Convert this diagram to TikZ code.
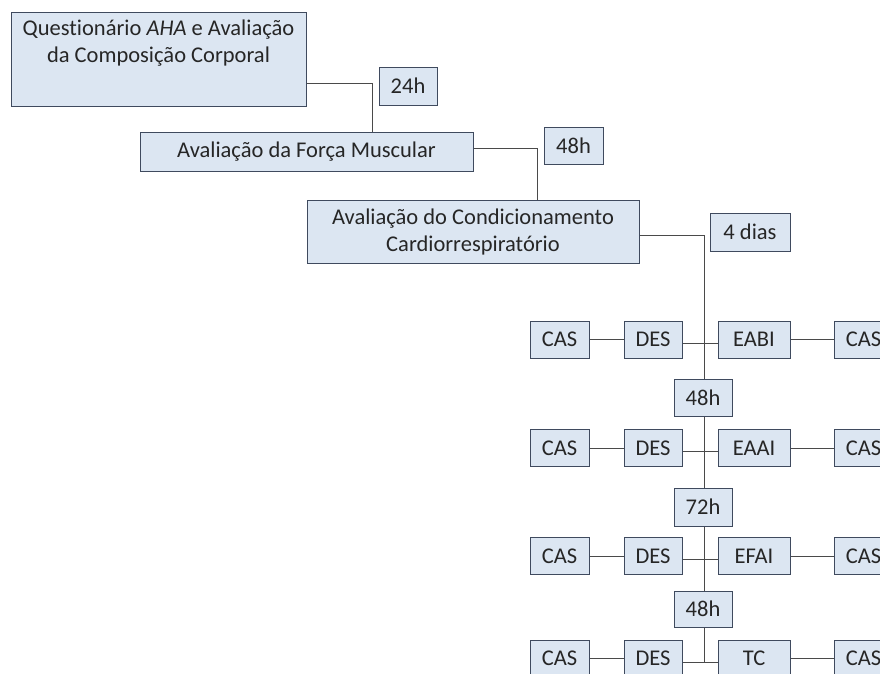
\documentclass[tikz,border=0pt]{standalone}
\usepackage{fontspec}
\setmainfont{Carlito}[Ligatures=NoCommon]
\usetikzlibrary{backgrounds}
\definecolor{boxfill}{HTML}{DCE6F2}
\definecolor{boxline}{HTML}{3F4A5E}
\definecolor{conn}{HTML}{4A4A4A}
\definecolor{txt}{HTML}{262626}
\tikzset{
  box/.style={draw=boxline, line width=1pt, fill=boxfill, inner sep=0pt, text=txt, align=center},
  lbl/.style={inner sep=0pt, text=txt, align=center},
  link/.style={draw=conn, line width=1pt}
}
\begin{document}
\begin{tikzpicture}[x=1pt, y=-1pt, font=\fontsize{22.5}{27}\selectfont]
\clip (0,0) rectangle (880,673);
% top boxes
\node[box, anchor=north west, minimum width=295pt, minimum height=94pt] (q) at (11,12) {};
\node[lbl] (qt) at (158.5,43) {Questionário \textit{AHA} e Avaliação\\da Composição Corporal};
\node[box, minimum width=58pt, minimum height=38pt] (d24) at (408,86) {24h};
\node[box, minimum width=333pt, minimum height=39pt] (fm) at (306.5,151.5) {Avaliação da Força Muscular};
\node[box, minimum width=59pt, minimum height=37pt] (d48a) at (573.5,145.5) {48h};
\node[box, minimum width=332pt, minimum height=63pt] (cc) at (473,231.5) {Avaliação do Condicionamento\\Cardiorrespiratório};
\node[box, minimum width=80pt, minimum height=38pt] (d4) at (750,232) {4 dias};
% rows
\foreach \r/\y/\e in {1/339.5/EABI, 2/448/EAAI, 3/556/EFAI, 4/658.5/TC}{
  \node[box, minimum width=59pt, minimum height=37pt] (casa\r) at (559.5,\y) {CAS};
  \node[box, minimum width=58pt, minimum height=37pt] (des\r) at (653,\y) {DES};
  \node[box, minimum width=72pt, minimum height=37pt] (ex\r) at (754,\y) {\e};
  \node[box, minimum width=59pt, minimum height=37pt] (casb\r) at (863.5,\y) {CAS};
}
\node[box, minimum width=58pt, minimum height=37pt] (w1) at (703,397.5) {48h};
\node[box, minimum width=58pt, minimum height=38pt] (w2) at (703,507) {72h};
\node[box, minimum width=58pt, minimum height=36pt] (w3) at (703,609) {48h};
\coordinate (bend) at (704,235);
\coordinate (bottom) at (704,663);
\begin{scope}[on background layer]
\fill[white] (0,0) rectangle (880,673);
\draw[link] (q.east |- 0,83) -| (fm.north -| 372,0);
\draw[link] (fm.east |- 0,148) -| (cc.north -| 537,0);
\draw[link] (cc.east |- bend) -- (bend) -- (bottom);
\foreach \r in {1,2,3,4}{
  \draw[link] (casa\r) -- (des\r);
  \draw[link] ([yshift=-3.5pt]des\r.east) -- ([yshift=-3.5pt]ex\r.west);
  \draw[link] (ex\r) -- (casb\r);
}
\end{scope}
\end{tikzpicture}
\end{document}
